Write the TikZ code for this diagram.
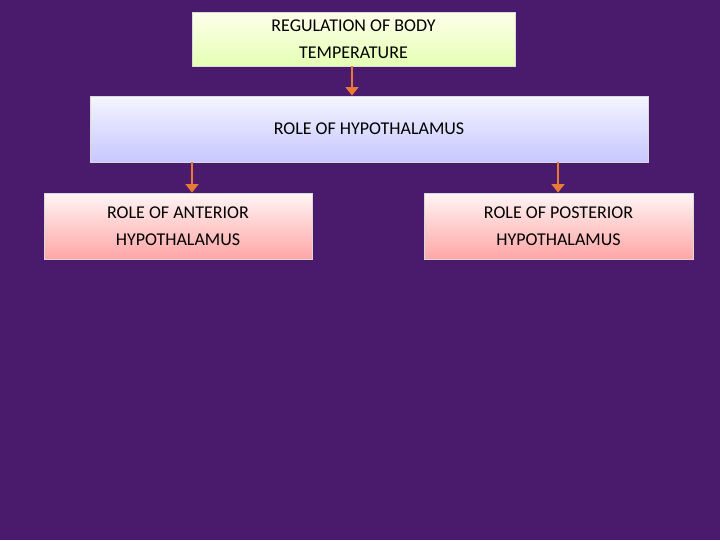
\documentclass[tikz,border=0pt]{standalone}
\usepackage{fontspec}
\setmainfont{Carlito}
\usetikzlibrary{arrows.meta}
\definecolor{bgp}{HTML}{4A1A6C}
\definecolor{arr}{HTML}{E97A35}
\tikzset{
  box/.style={draw=white!70!gray, line width=0.6pt, align=center, font=\fontsize{12.8}{19.5}\selectfont, inner sep=0pt},
  greenbox/.style={box, top color=green!4!yellow!8, bottom color=green!35!yellow!30!white},
  lavbox/.style={box, top color=white!96!blue, bottom color=blue!22!white},
  pinkbox/.style={box, top color=red!4!white, bottom color=red!35!white},
  conn/.style={arr, line width=2pt, -{Triangle[width=9pt,length=6pt]}}
}
\begin{document}
\begin{tikzpicture}[x=0.025cm,y=-0.025cm]
\fill[bgp] (0,0) rectangle (720,540);
\useasboundingbox (0,0) rectangle (720,540);
\node[greenbox, minimum width=323*0.025cm, minimum height=54*0.025cm] (top) at (353.5,39) {REGULATION OF BODY\\TEMPERATURE};
\node[lavbox, minimum width=558*0.025cm, minimum height=66*0.025cm] (mid) at (369,129) {ROLE OF HYPOTHALAMUS};
\node[pinkbox, minimum width=268*0.025cm, minimum height=66*0.025cm] (left) at (178,226) {ROLE OF ANTERIOR\\HYPOTHALAMUS};
\node[pinkbox, minimum width=269*0.025cm, minimum height=66*0.025cm] (right) at (558.5,226) {ROLE OF POSTERIOR\\HYPOTHALAMUS};
\draw[conn] (top.south -| 352,0) -- (mid.north -| 352,0);
\draw[conn] (mid.south -| 192,0) -- (left.north -| 192,0);
\draw[conn] (mid.south -| 558,0) -- (right.north -| 558,0);
\end{tikzpicture}
\end{document}
